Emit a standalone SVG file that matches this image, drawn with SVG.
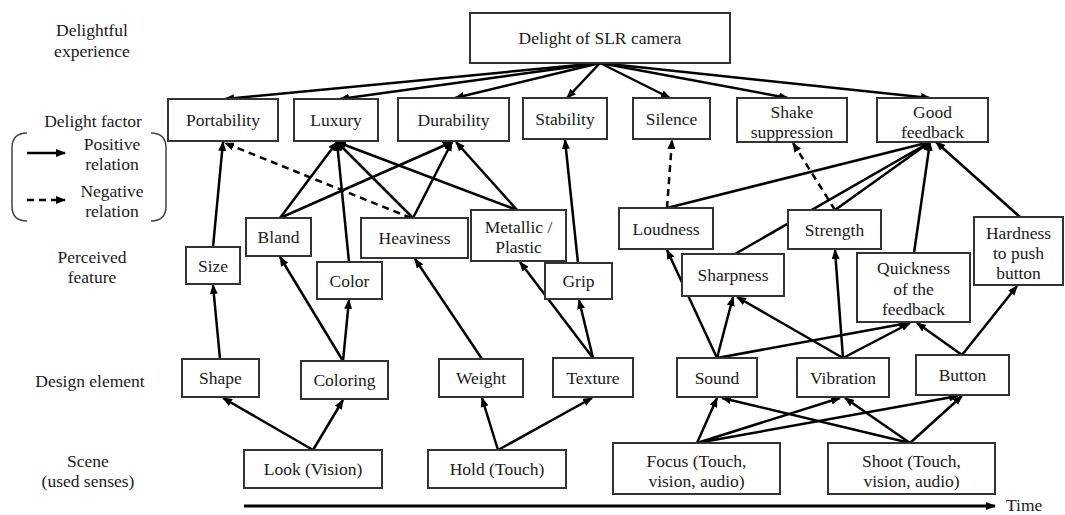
<svg xmlns="http://www.w3.org/2000/svg" width="1065" height="515" viewBox="0 0 1065 515">
<style>
text{font-family:"Liberation Serif","Times New Roman",serif;font-size:17.5px;fill:#1a1a1a;text-anchor:middle}
.box{fill:#fff;stroke:#333;stroke-width:2}
.c{stroke:#000;stroke-width:2.5;fill:none;marker-end:url(#ah)}
.d{stroke-dasharray:7 5}
.br{stroke:#444;stroke-width:1.5;fill:none}
</style>
<defs>
<marker id="ah" viewBox="0 0 10 8" refX="9" refY="4" markerWidth="10" markerHeight="8" markerUnits="userSpaceOnUse" orient="auto">
<path d="M0,0 L10,4 L0,8 z" fill="#000"/>
</marker>
</defs>
<rect width="1065" height="515" fill="#fff"/>

<g id="labels">
<text x="92" y="36">Delightful</text>
<text x="92" y="57">experience</text>
<text x="93" y="127">Delight factor</text>
<path class="br" d="M27 133 Q12 133 12 148 L12 206 Q12 221 27 221"/>
<path class="br" d="M151 133 Q166 133 166 148 L166 206 Q166 221 151 221"/>
<line x1="27" y1="153" x2="65" y2="153" class="c"/>
<line x1="27" y1="200" x2="65" y2="200" class="c d"/>
<text x="112" y="150">Positive</text>
<text x="112" y="170">relation</text>
<text x="112" y="197">Negative</text>
<text x="112" y="217">relation</text>
<text x="92" y="263">Perceived</text>
<text x="92" y="283">feature</text>
<text x="90" y="387">Design element</text>
<text x="88" y="467">Scene</text>
<text x="88" y="487">(used senses)</text>
<line x1="244" y1="506" x2="995" y2="506" class="c" style="stroke-width:3"/>
<text x="1006" y="511" style="text-anchor:start">Time</text>
</g>

<g id="connectors">
<line x1="600" y1="63" x2="225" y2="99" class="c"/>
<line x1="600" y1="63" x2="340" y2="99" class="c"/>
<line x1="600" y1="63" x2="455" y2="98" class="c"/>
<line x1="600" y1="63" x2="567" y2="98" class="c"/>
<line x1="600" y1="63" x2="670" y2="98" class="c"/>
<line x1="600" y1="63" x2="788" y2="98" class="c"/>
<line x1="600" y1="63" x2="930" y2="98" class="c"/>

<line x1="213" y1="247" x2="223" y2="142" class="c"/>
<line x1="411" y1="218" x2="225" y2="143" class="c d"/>
<line x1="280" y1="218" x2="337" y2="142" class="c"/>
<line x1="280" y1="218" x2="452" y2="142" class="c"/>
<line x1="349" y1="262" x2="337" y2="142" class="c"/>
<line x1="413" y1="218" x2="337" y2="142" class="c"/>
<line x1="413" y1="218" x2="452" y2="142" class="c"/>
<line x1="517" y1="210" x2="337" y2="142" class="c"/>
<line x1="517" y1="210" x2="456" y2="142" class="c"/>
<line x1="578" y1="263" x2="565" y2="140" class="c"/>
<line x1="667" y1="208" x2="672" y2="140" class="c d"/>
<line x1="667" y1="208" x2="930" y2="142" class="c"/>
<line x1="835" y1="210" x2="793" y2="143" class="c d"/>
<line x1="835" y1="210" x2="930" y2="142" class="c"/>
<line x1="735" y1="254" x2="930" y2="142" class="c"/>
<line x1="914" y1="253" x2="930" y2="142" class="c"/>
<line x1="1020" y1="217" x2="936" y2="142" class="c"/>

<line x1="220" y1="359" x2="213" y2="285" class="c"/>
<line x1="343" y1="361" x2="280" y2="257" class="c"/>
<line x1="343" y1="361" x2="349" y2="300" class="c"/>
<line x1="482" y1="359" x2="415" y2="259" class="c"/>
<line x1="593" y1="358" x2="520" y2="262" class="c"/>
<line x1="593" y1="358" x2="579" y2="300" class="c"/>
<line x1="717" y1="358" x2="667" y2="250" class="c"/>
<line x1="717" y1="358" x2="733" y2="297" class="c"/>
<line x1="717" y1="358" x2="908" y2="323" class="c"/>
<line x1="843" y1="358" x2="737" y2="297" class="c"/>
<line x1="843" y1="358" x2="835" y2="250" class="c"/>
<line x1="843" y1="358" x2="910" y2="323" class="c"/>
<line x1="962" y1="355" x2="917" y2="323" class="c"/>
<line x1="962" y1="355" x2="1017" y2="286" class="c"/>

<line x1="313" y1="450" x2="223" y2="398" class="c"/>
<line x1="313" y1="450" x2="343" y2="400" class="c"/>
<line x1="498" y1="450" x2="482" y2="398" class="c"/>
<line x1="498" y1="450" x2="592" y2="398" class="c"/>
<line x1="697" y1="443" x2="717" y2="398" class="c"/>
<line x1="697" y1="443" x2="840" y2="398" class="c"/>
<line x1="697" y1="443" x2="958" y2="396" class="c"/>
<line x1="910" y1="443" x2="722" y2="398" class="c"/>
<line x1="910" y1="443" x2="845" y2="398" class="c"/>
<line x1="910" y1="443" x2="962" y2="396" class="c"/>
</g>

<g id="n-top"><rect class="box" x="470" y="13" width="260" height="50"/><text x="600" y="44">Delight of SLR camera</text></g>

<g id="n-portability"><rect class="box" x="168" y="99" width="110" height="42"/><text x="223" y="126">Portability</text></g>
<g id="n-luxury"><rect class="box" x="294" y="99" width="84" height="42"/><text x="336" y="126">Luxury</text></g>
<g id="n-durability"><rect class="box" x="398" y="98" width="111" height="43"/><text x="453.5" y="126">Durability</text></g>
<g id="n-stability"><rect class="box" x="523" y="98" width="84" height="41"/><text x="565" y="125">Stability</text></g>
<g id="n-silence"><rect class="box" x="633" y="98" width="77" height="41"/><text x="671.5" y="125">Silence</text></g>
<g id="n-shake"><rect class="box" x="737" y="98" width="110" height="44"/><text x="792" y="118">Shake</text><text x="792" y="138">suppression</text></g>
<g id="n-goodfb"><rect class="box" x="877" y="98" width="111" height="44"/><text x="932.5" y="118">Good</text><text x="932.5" y="138">feedback</text></g>

<g id="n-size"><rect class="box" x="186" y="247" width="54" height="37"/><text x="213" y="271.5">Size</text></g>
<g id="n-bland"><rect class="box" x="246" y="218" width="65" height="38"/><text x="278.5" y="243">Bland</text></g>
<g id="n-color"><rect class="box" x="317" y="262" width="65" height="37"/><text x="349.5" y="286.5">Color</text></g>
<g id="n-heaviness"><rect class="box" x="361" y="218" width="107" height="40"/><text x="414.5" y="244">Heaviness</text></g>
<g id="n-metallic"><rect class="box" x="471" y="210" width="95" height="51"/><text x="518.5" y="233">Metallic /</text><text x="518.5" y="253">Plastic</text></g>
<g id="n-grip"><rect class="box" x="545" y="263" width="67" height="36"/><text x="578.5" y="287">Grip</text></g>
<g id="n-loudness"><rect class="box" x="619" y="208" width="94" height="41"/><text x="666" y="234.5">Loudness</text></g>
<g id="n-sharpness"><rect class="box" x="682" y="254" width="102" height="42"/><text x="733" y="281">Sharpness</text></g>
<g id="n-strength"><rect class="box" x="788" y="210" width="93" height="39"/><text x="834.5" y="235.5">Strength</text></g>
<g id="n-quickness"><rect class="box" x="857" y="253" width="113" height="69"/><text x="913.5" y="274">Quickness</text><text x="913.5" y="294.5">of the</text><text x="913.5" y="315">feedback</text></g>
<g id="n-hardness"><rect class="box" x="974" y="217" width="89" height="68"/><text x="1018.5" y="239">Hardness</text><text x="1018.5" y="259">to push</text><text x="1018.5" y="279">button</text></g>

<g id="n-shape"><rect class="box" x="182" y="359" width="77" height="38"/><text x="220.5" y="384">Shape</text></g>
<g id="n-coloring"><rect class="box" x="301" y="361" width="87" height="38"/><text x="344.5" y="386">Coloring</text></g>
<g id="n-weight"><rect class="box" x="439" y="359" width="84" height="38"/><text x="481" y="384">Weight</text></g>
<g id="n-texture"><rect class="box" x="553" y="358" width="80" height="39"/><text x="593" y="383.5">Texture</text></g>
<g id="n-sound"><rect class="box" x="677" y="358" width="80" height="39"/><text x="717" y="383.5">Sound</text></g>
<g id="n-vibration"><rect class="box" x="797" y="358" width="92" height="39"/><text x="843" y="383.5">Vibration</text></g>
<g id="n-button"><rect class="box" x="916" y="355" width="93" height="40"/><text x="962.5" y="381">Button</text></g>

<g id="n-look"><rect class="box" x="244" y="450" width="138" height="38"/><text x="313" y="475">Look (Vision)</text></g>
<g id="n-hold"><rect class="box" x="428" y="450" width="138" height="38"/><text x="497" y="475">Hold (Touch)</text></g>
<g id="n-focus"><rect class="box" x="613" y="443" width="167" height="51"/><text x="696.5" y="467">Focus (Touch,</text><text x="696.5" y="487">vision, audio)</text></g>
<g id="n-shoot"><rect class="box" x="828" y="443" width="167" height="51"/><text x="911.5" y="467">Shoot (Touch,</text><text x="911.5" y="487">vision, audio)</text></g>
</svg>
